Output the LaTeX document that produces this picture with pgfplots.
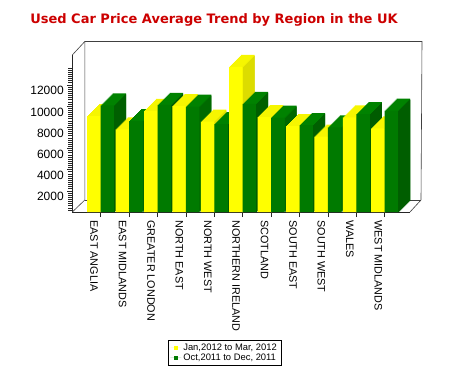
\documentclass[border=0pt]{standalone}
\usepackage{pgfplots}
\pgfplotsset{compat=1.18}
\usepackage{pgfplotstable}
\usepackage{fontspec}
\setmainfont{Liberation Sans}
\newfontfamily\titlefont{DejaVu Sans}
\definecolor{yfront}{HTML}{FFFF00}
\definecolor{ytop}{HTML}{F6F600}
\definecolor{yside}{HTML}{D2D200}
\definecolor{gfront}{HTML}{007A00}
\definecolor{gtop}{HTML}{008200}
\definecolor{gside}{HTML}{005C00}
\definecolor{titlered}{HTML}{CC0000}

\pgfplotstableread{
x jan oct
0 9050 10050
1 7800 8585
2 9530 10100
3 10000 9930
4 8520 8300
5 13680 10190
6 8950 8900
7 8110 8200
8 7100 7990
9 8930 9245
10 7900 9560
}\data

\begin{document}
\begin{tikzpicture}
\useasboundingbox (0,0) rectangle (468pt,376pt);
\node[font=\titlefont\bfseries\fontsize{13}{15}\selectfont, text=titlered] at (214pt,356.5pt) {Used Car Price Average Trend by Region in the UK};
\begin{axis}[
  at={(72.3pt,164pt)}, anchor=south west,
  scale only axis, width=337.7pt, height=157pt,
  xmin=-1, xmax=10.89, ymin=0, ymax=14811,
  clip=false,
  scaled y ticks=false,
  axis x line*=bottom, axis y line*=left,
  axis line style={black!85, line width=0.6pt, -},
  xtick={0,...,10},
  xticklabels={EAST ANGLIA, EAST MIDLANDS, GREATER LONDON, NORTH EAST, NORTH WEST, NORTHERN IRELAND, SCOTLAND, SOUTH EAST, SOUTH WEST, WALES, WEST MIDLANDS},
  xticklabel style={font=\fontsize{10.8}{12}\selectfont, xshift=-6.5pt, rotate=-90, anchor=west},
  ytick={2000,4000,...,12000},
  yticklabels={2000,4000,6000,8000,10000,12000},
  yticklabel style={font=\fontsize{12}{14}\selectfont, yshift=-6pt},
  minor ytick={200,400,...,13600},
  tick align=outside,
  major tick length=5pt, minor tick length=4pt,
  tick style={black!85, line width=0.5pt},
  legend style={at={(0.2834,-0.8153)}, anchor=north west, draw=black, line width=0.6pt,
    font=\fontsize{9.4}{9}\selectfont, inner xsep=2pt, inner ysep=1.5pt, row sep=-2pt,
    cells={anchor=west}},
]
% back frame
\draw[black!75, line width=0.6pt]
  (rel axis cs:0,1) -- ++(12.5pt,13.5pt) -- ([shift={(12pt,13.5pt)}]rel axis cs:1,1)
  -- ([shift={(11pt,12pt)}]rel axis cs:1,0) -- (rel axis cs:1,0);
\draw[black!75, line width=0.6pt]
  ([shift={(12.5pt,13.5pt)}]rel axis cs:0,1) -- ([shift={(12.5pt,12pt)}]rel axis cs:0,0) -- (rel axis cs:0,0);
\draw[black!75, line width=0.6pt]
  ([shift={(12.5pt,12pt)}]rel axis cs:0,0) -- ([shift={(11pt,12pt)}]rel axis cs:1,0);
% extrusion slices, back to front
\pgfplotsinvokeforeach{12,11,...,1}{
  \addplot[ybar, bar width=13.5pt, bar shift=-6.75pt, fill=ytop, draw=none, xshift=#1pt, yshift=#1pt, forget plot] table[x=x,y=jan]{\data};
  \addplot[ybar, bar width=1.05pt, bar shift=-0.5pt, fill=yside, draw=none, xshift=#1pt, yshift=#1pt-1pt, forget plot] table[x=x,y=jan]{\data};
  \addplot[ybar, bar width=13.5pt, bar shift=6.75pt, fill=gtop, draw=none, xshift=#1pt, yshift=#1pt, forget plot] table[x=x,y=oct]{\data};
  \addplot[ybar, bar width=1.05pt, bar shift=13pt, fill=gside, draw=none, xshift=#1pt, yshift=#1pt-1pt, forget plot] table[x=x,y=oct]{\data};
}
% front faces
\addplot[ybar, bar width=13.5pt, bar shift=-6.75pt, fill=yfront, draw=none,
  legend image code/.code={\fill[yfront] (4pt,-2pt) rectangle (8pt,2pt); \path (0pt,0pt) -- (11pt,0pt);}] table[x=x,y=jan]{\data};
\addlegendentry{Jan,2012 to Mar, 2012}
\addplot[ybar, bar width=13.5pt, bar shift=6.75pt, fill=gfront, draw=none,
  legend image code/.code={\fill[gfront] (4pt,-2pt) rectangle (8pt,2pt); \path (0pt,0pt) -- (11pt,0pt);}] table[x=x,y=oct]{\data};
\addlegendentry{Oct,2011 to Dec, 2011}
\end{axis}
\end{tikzpicture}
\end{document}
